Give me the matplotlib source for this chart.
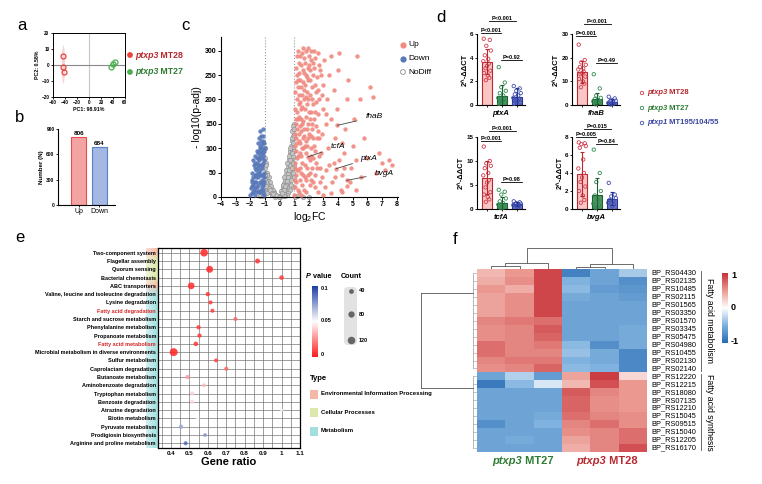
import numpy as np
import matplotlib.pyplot as plt
from matplotlib.colors import LinearSegmentedColormap, to_rgb
from matplotlib.patches import Ellipse, Rectangle, FancyBboxPatch

plt.rcParams['font.family'] = ['Liberation Sans', 'DejaVu Sans']
plt.rcParams['mathtext.fontset'] = 'custom'
plt.rcParams['mathtext.rm'] = 'Liberation Sans'
plt.rcParams['mathtext.it'] = 'Liberation Sans:italic'
plt.rcParams['mathtext.bf'] = 'Liberation Sans:bold'

# ---------------- data ----------------
# a: PCA
pca_mt28_x = [-43, -43, -42]
pca_mt28_y = [5.6, -1.0, -4.2]
pca_mt27_x = [43, 37, 40]
pca_mt27_y = [2.0, -1.0, 0.6]

# b: DEG counts
deg_labels = ['Up', 'Down']
deg_counts = [806, 684]

# c: volcano (log2FC, -log10 padj)
up_pts = [(1.05, 20), (1.1, 45), (1.08, 70), (1.12, 95), (1.15, 120), (1.1, 150), (1.2, 175), (1.18, 200),
          (1.25, 225), (1.22, 250), (1.3, 275), (1.28, 300), (1.35, 10), (1.4, 35), (1.38, 60), (1.45, 85),
          (1.42, 110), (1.5, 135), (1.48, 160), (1.55, 185), (1.52, 210), (1.6, 235), (1.58, 260), (1.65, 285),
          (1.62, 305), (1.7, 15), (1.75, 40), (1.72, 65), (1.8, 90), (1.78, 115), (1.85, 140), (1.82, 165),
          (1.9, 190), (1.88, 215), (1.95, 240), (1.92, 265), (2.0, 290), (1.98, 305), (2.05, 25), (2.1, 50),
          (2.08, 75), (2.15, 100), (2.12, 125), (2.2, 150), (2.18, 175), (2.25, 200), (2.22, 225), (2.3, 250),
          (2.28, 275), (2.35, 300), (2.4, 20), (2.45, 45), (2.5, 70), (2.42, 95), (2.55, 120), (2.48, 145),
          (2.6, 170), (2.52, 195), (2.65, 220), (2.58, 245), (2.7, 270), (2.62, 295), (2.75, 30), (2.8, 60),
          (2.85, 90), (2.9, 130), (2.95, 180), (3.0, 230), (2.78, 260), (2.88, 210), (3.1, 20), (3.2, 55),
          (3.3, 100), (3.15, 150), (3.25, 200), (3.4, 250), (3.5, 290), (3.05, 280), (3.6, 30), (3.7, 70),
          (3.8, 120), (3.9, 180), (4.0, 260), (4.1, 295), (3.55, 160), (3.75, 220), (4.2, 15), (4.3, 45),
          (4.4, 90), (4.5, 140), (4.6, 200), (4.7, 240), (4.25, 110), (4.8, 30), (4.9, 60), (5.0, 105),
          (5.1, 160), (5.3, 290), (5.5, 200), (5.2, 75), (5.6, 40), (5.8, 120), (6.0, 80), (6.2, 225),
          (6.4, 205), (6.6, 50), (6.8, 90), (7.0, 70), (7.2, 55), (7.5, 75), (7.7, 65), (1.02, 5), (1.15, 30),
          (1.25, 55), (1.05, 105), (1.3, 130), (1.05, 180), (1.35, 210), (1.15, 265), (1.4, 240), (1.6, 100),
          (1.7, 140), (1.9, 60), (2.0, 130), (2.3, 80), (2.1, 260), (1.5, 180), (1.8, 250), (1.25, 85),
          (1.45, 5), (2.6, 10), (3.0, 5), (3.5, 8), (4.3, 10), (4.6, 22), (5.2, 15), (3.8, 40), (4.1, 75),
          (4.4, 60), (3.4, 65), (2.9, 40), (1.2, 140), (1.3, 190), (1.4, 290), (1.55, 70), (1.65, 200),
          (1.75, 230), (2.05, 210), (2.4, 230), (2.7, 120), (3.2, 170), (3.96, 147), (1.93, 82), (3.86, 58),
          (4.59, 34), (1.08, 35), (1.12, 160), (1.18, 80), (1.22, 110), (1.28, 240), (1.32, 165), (1.38, 90),
          (1.42, 195), (1.48, 270), (1.52, 25), (1.58, 120), (1.62, 155), (1.68, 255), (1.72, 180),
          (1.78, 300), (1.82, 35), (1.88, 105), (1.92, 150), (1.98, 200), (2.02, 270), (2.08, 160),
          (2.12, 35), (2.18, 280), (2.22, 60), (2.28, 120), (2.32, 190), (2.38, 265), (2.45, 175), (2.5, 215),
          (1.03, 60), (1.06, 130), (1.09, 215), (1.14, 235), (1.17, 55), (1.21, 290), (1.24, 160), (1.27, 15),
          (1.33, 115), (1.36, 255), (1.39, 145), (1.44, 225), (1.46, 50), (1.51, 100), (1.54, 295), (1.57, 150),
          (1.63, 45), (1.66, 125), (1.69, 220), (1.74, 105), (1.77, 275), (1.81, 205), (1.84, 10), (1.87, 245),
          (1.94, 120), (1.97, 45), (2.03, 175), (2.07, 240), (2.14, 300), (2.17, 85), (2.24, 140), (2.27, 30),
          (2.34, 105), (2.37, 160), (2.44, 285), (2.56, 60), (2.64, 135), (2.68, 85), (2.72, 200), (2.84, 250)]
down_pts = [(-1.05, 5), (-1.1, 15), (-1.15, 25), (-1.2, 35), (-1.25, 45), (-1.3, 55), (-1.35, 65), (-1.4, 75),
            (-1.1, 85), (-1.2, 95), (-1.3, 105), (-1.15, 115), (-1.25, 125), (-1.3, 135), (-1.5, 10), (-1.55, 20),
            (-1.6, 30), (-1.45, 40), (-1.5, 50), (-1.65, 60), (-1.55, 70), (-1.4, 80), (-1.5, 90), (-1.35, 100),
            (-1.45, 110), (-1.4, 120), (-1.7, 5), (-1.75, 15), (-1.8, 25), (-1.85, 35), (-1.7, 45), (-1.6, 55),
            (-1.75, 65), (-1.65, 85), (-1.55, 95), (-1.9, 8), (-1.95, 18), (-2.0, 5), (-1.85, 50), (-1.8, 75),
            (-1.9, 30), (-1.05, 30), (-1.08, 50), (-1.12, 70), (-1.18, 60), (-1.22, 80), (-1.28, 90), (-1.02, 100),
            (-1.06, 110), (-1.1, 125), (-1.2, 20), (-1.3, 10), (-1.35, 30), (-1.4, 50), (-1.45, 60), (-1.6, 40),
            (-1.65, 20), (-1.7, 30), (-1.25, 15), (-1.15, 45), (-1.35, 85), (-1.5, 65), (-1.2, 108), (-1.1, 140),
            (-1.04, 40), (-1.08, 95), (-1.13, 8), (-1.17, 100), (-1.23, 65), (-1.27, 28), (-1.33, 45),
            (-1.38, 12), (-1.42, 95), (-1.48, 25), (-1.53, 80), (-1.58, 45), (-1.62, 12), (-1.68, 70),
            (-1.78, 40), (-1.82, 10), (-1.88, 22), (-1.03, 75), (-1.14, 90), (-1.26, 115)]
nodiff_pts = [(0.1, 5), (0.15, 10), (0.2, 15), (0.25, 22), (0.3, 28), (0.35, 35), (0.4, 40), (0.45, 48),
              (0.5, 55), (0.55, 62), (0.6, 70), (0.65, 78), (0.7, 88), (0.75, 95), (0.8, 105), (0.85, 115),
              (0.9, 125), (0.95, 138), (0.98, 150), (0.2, 5), (0.3, 10), (0.4, 15), (0.5, 20), (0.6, 30),
              (0.7, 40), (0.8, 50), (0.9, 60), (0.95, 80), (0.85, 70), (0.75, 60), (0.65, 45), (0.55, 35),
              (0.45, 25), (0.35, 18), (0.6, 50), (0.7, 65), (0.8, 80), (0.9, 100), (0.95, 110), (0.85, 95),
              (0.75, 75), (0.9, 85), (0.98, 120), (0.98, 95), (0.98, 65), (0.98, 40), (0.95, 20), (0.8, 25),
              (0.7, 15), (0.6, 8), (0.5, 5), (0.4, 3), (0.3, 2), (-0.1, 3), (-0.2, 2), (-0.3, 5), (-0.4, 10),
              (-0.5, 15), (-0.6, 20), (-0.7, 25), (-0.8, 32), (-0.9, 40), (-0.95, 50), (-0.98, 60), (-0.3, 1),
              (-0.5, 5), (-0.7, 10), (-0.9, 15), (-0.95, 25), (-0.8, 18), (-0.6, 10), (-0.4, 4), (-0.85, 8),
              (-0.98, 35), (-0.98, 80), (-0.95, 70), (0.0, 2), (0.05, 1), (-0.05, 1), (-1.3, 2), (-1.1, 3),
              (1.2, 2), (1.6, 1), (2.0, 1), (-0.98, 100), (1.05, 1), (0.88, 135), (0.92, 145), (0.72, 100),
              (0.62, 85), (0.52, 70), (0.42, 55), (0.32, 40), (0.22, 25), (0.12, 12), (-0.88, 50), (-0.75, 40),
              (-0.65, 30), (-0.55, 22), (-0.45, 14), (-0.35, 9), (-0.25, 4), (-0.92, 65), (-0.85, 28),
              (0.82, 120), (0.87, 90), (0.93, 70), (0.78, 35), (0.68, 55), (0.58, 42), (0.48, 32), (0.38, 22),
              (0.28, 14), (0.18, 8), (0.96, 128), (0.99, 140), (0.91, 50), (0.83, 60), (-0.93, 30), (-0.83, 45),
              (-0.72, 18), (-0.62, 14), (-0.52, 9), (-0.42, 6), (-0.97, 45), (-0.9, 22)]
gene_names = ['fhaB', 'tcfA', 'ptxA', 'bvgA']
gene_x = [3.96, 1.93, 3.86, 4.59]
gene_y = [147, 82, 58, 34]
gene_text_x = [6.45, 3.96, 6.12, 7.14]
gene_text_y = [164, 103, 79, 49]

# d: qPCR (2^-ddCT) for ptxp3 MT28, ptxp3 MT27, ptxp1
qpcr_genes = ['ptxA', 'fhaB', 'tcfA', 'bvgA']
qpcr_ymax = [6, 30, 15, 8]
qpcr_ticks = [[0, 2, 4, 6], [0, 10, 20, 30], [0, 5, 10, 15], [0, 2, 4, 6, 8]]
qpcr_mean = [[3.66, 0.79, 0.65], [14.1, 2.7, 1.4], [6.5, 1.25, 1.05], [3.84, 1.6, 1.16]]
qpcr_sd = [[1.05, 0.9, 0.8], [4.7, 2.2, 1.0], [3.4, 1.25, 0.4], [2.45, 1.85, 0.7]]
qpcr_pts = [
    [[5.6, 5.5, 5.0, 4.6, 4.2, 3.9, 3.7, 3.5, 3.3, 3.1, 2.9, 2.7, 2.5, 2.3, 2.1],
     [3.2, 1.9, 1.5, 1.2, 1.0, 0.8, 0.6, 0.5, 0.4, 0.3, 0.2, 0.1],
     [1.6, 1.4, 1.2, 1.0, 0.9, 0.8, 0.6, 0.5, 0.4, 0.3, 0.2, 0.1]],
    [[25.5, 19, 18, 17, 16, 15.5, 15, 14, 13.5, 13, 12, 11, 10, 9, 7.5],
     [13, 7, 4, 3, 2.5, 2, 1.5, 1, 0.6, 0.3],
     [3.5, 2.8, 2.2, 1.8, 1.5, 1.2, 0.9, 0.6, 0.4, 0.2]],
    [[13, 10, 9.5, 9, 8.5, 7.5, 7, 6, 5.5, 4.5, 3.5, 3, 2.5, 2, 1.5],
     [4, 3.6, 3, 2.2, 1.6, 1.2, 0.9, 0.6, 0.4, 0.2],
     [1.6, 1.4, 1.2, 1.1, 1.0, 0.9, 0.8, 0.6, 0.5]],
    [[7.4, 7.3, 7.2, 7.0, 6.8, 5.5, 4.5, 4.0, 3.5, 3.0, 2.5, 2.0, 1.5, 1.0, 0.7],
     [6.6, 4.0, 3.0, 2.0, 1.5, 1.0, 0.6, 0.4, 0.2, 0.1],
     [2.9, 1.6, 1.4, 1.2, 1.0, 0.9, 0.7, 0.5, 0.3]],
]
qpcr_p = [['P<0.001', 'P<0.001', 'P=0.92'], ['P<0.001', 'P=0.001', 'P=0.49'],
          ['P<0.001', 'P<0.001', 'P=0.98'], ['P=0.015', 'P=0.005', 'P=0.84']]
qpcr_p_y = [[7.1, 6.06, 3.8], [34.2, 29.3, 17.7], [16.2, 14.1, 5.6], [8.86, 7.97, 7.2]]
strain_names = [('ptxp3', ' MT28'), ('ptxp3', ' MT27'), ('ptxp1', ' MT195/104/55')]

# e: KEGG enrichment
pathways = ['Two-component system', 'Flagellar assembly', 'Quorum sensing', 'Bacterial chemotaxis',
            'ABC transporters', 'Valine, leucine and isoleucine degradation', 'Lysine degradation',
            'Fatty acid degradation', 'Starch and sucrose metabolism', 'Phenylalanine metabolism',
            'Propanoate metabolism', 'Fatty acid metabolism', 'Microbial metabolism in diverse environments',
            'Sulfur metabolism', 'Caprolactam degradation', 'Butanoate metabolism', 'Aminobenzoate degradation',
            'Tryptophan metabolism', 'Benzoate degradation', 'Atrazine degradation', 'Biotin metabolism',
            'Pyruvate metabolism', 'Prodigiosin biosynthesis', 'Arginine and proline metabolism']
gene_ratio = [0.58, 0.87, 0.61, 1.0, 0.51, 0.60, 0.615, 0.625, 0.75, 0.55, 0.555, 0.535, 0.415, 0.645,
              0.70, 0.49, 0.58, 0.515, 0.515, 1.0, 0.545, 0.455, 0.585, 0.48]
path_count = [125, 45, 100, 35, 95, 30, 25, 25, 25, 30, 30, 35, 135, 25, 25, 30, 22, 25, 25, 10, 15, 30, 18, 25]
path_p = [0.002, 0.005, 0.002, 0.006, 0.003, 0.005, 0.006, 0.006, 0.015, 0.006, 0.006, 0.005, 0.001, 0.008,
          0.015, 0.028, 0.034, 0.039, 0.041, 0.046, 0.049, 0.072, 0.078, 0.088]
path_type = ['Env', 'Cell', 'Cell', 'Cell', 'Env'] + ['Met'] * 19
path_highlight = ['Fatty acid degradation', 'Fatty acid metabolism']
type_names = ['Environmental Information Processing', 'Cellular Processes', 'Metabolism']

# f: heatmap (z-score)
hm_genes = ['BP_RS04430', 'BP_RS02135', 'BP_RS10485', 'BP_RS02115', 'BP_RS01565', 'BP_RS03350', 'BP_RS01570',
            'BP_RS03345', 'BP_RS05475', 'BP_RS04980', 'BP_RS10455', 'BP_RS02130', 'BP_RS02140', 'BP_RS12220',
            'BP_RS12215', 'BP_RS18080', 'BP_RS07135', 'BP_RS12210', 'BP_RS15045', 'BP_RS09515', 'BP_RS15040',
            'BP_RS12205', 'BP_RS16170']
hm_values = [
    [0.35, 0.5, 0.9, -0.85, -0.6, -0.35], [0.4, 0.55, 0.9, -0.5, -0.6, -0.75],
    [0.5, 0.4, 0.9, -0.45, -0.65, -0.7], [0.45, 0.55, 0.9, -0.55, -0.6, -0.65],
    [0.45, 0.55, 0.9, -0.6, -0.6, -0.6], [0.45, 0.55, 0.9, -0.6, -0.6, -0.6],
    [0.6, 0.65, 0.7, -0.6, -0.6, -0.6], [0.55, 0.6, 0.8, -0.6, -0.6, -0.55],
    [0.55, 0.6, 0.75, -0.6, -0.6, -0.55], [0.7, 0.6, 0.65, -0.45, -0.75, -0.55],
    [0.7, 0.6, 0.6, -0.4, -0.55, -0.8], [0.6, 0.65, 0.65, -0.5, -0.55, -0.8],
    [0.55, 0.6, 0.75, -0.45, -0.5, -0.8], [-0.6, -0.3, -0.65, 0.45, 0.95, 0.2],
    [-0.9, -0.45, -0.15, 0.35, 0.85, 0.5], [-0.6, -0.6, -0.6, 0.8, 0.6, 0.5],
    [-0.6, -0.6, -0.6, 0.75, 0.55, 0.5], [-0.6, -0.6, -0.6, 0.75, 0.55, 0.5],
    [-0.6, -0.6, -0.55, 0.7, 0.6, 0.55], [-0.75, -0.6, -0.5, 0.6, 0.7, 0.55],
    [-0.6, -0.6, -0.6, 0.55, 0.6, 0.7], [-0.6, -0.55, -0.6, 0.45, 0.6, 0.7],
    [-0.6, -0.6, -0.6, 0.4, 0.6, 0.85]]
hm_groups = [('Fatty acid metabolism', 0, 12), ('Fatty acid synthesis', 13, 22)]
# column dendrogram links: x0, x1, h0, h1, h
col_links = [(0, 1, 0, 0, 0.13), (0.5, 2, 0.13, 0, 0.25), (3, 4, 0, 0, 0.10),
             (3.5, 5, 0.10, 0, 0.20), (1.25, 4.25, 0.25, 0.20, 0.9)]
row_attach = [2.5, 14.4]

# ---------------- figure ----------------
W, H = 762, 484
fig = plt.figure(figsize=(W / 100, H / 100), dpi=100)
renderer = fig.canvas.get_renderer()


def px_axes(l, t, r, b, **kw):
    return fig.add_axes([l / W, 1 - b / H, (r - l) / W, (b - t) / H], **kw)


RED = '#b8282e'
GREEN = '#2e7d32'
BLUE = '#3a46a0'


def bold_ticks(ax, size):
    ax.tick_params(labelsize=size)
    for lab in ax.get_xticklabels() + ax.get_yticklabels():
        lab.set_fontweight('bold')


# ---- panel a ----
ax = px_axes(53, 33, 125, 97)
ax.add_patch(Ellipse((-42.5, 0.3), 5, 24, color='#f7d3d3', lw=0, zorder=0))
ax.add_patch(Ellipse((40, 0.5), 10, 5, color='#d7edd5', lw=0, zorder=0))
ax.axvline(0, color='#c8c8c8', lw=0.8, zorder=0.5)
ax.axhline(0, color='#888888', lw=0.8, zorder=0.5)
ax.plot(pca_mt28_x, pca_mt28_y, 'o', mfc='none', mec='#e8453c', ms=3.6, mew=0.9)
ax.plot(pca_mt27_x, pca_mt27_y, 'o', mfc='none', mec='#4caf50', ms=3.6, mew=0.9)
ax.set_xlim(-60, 60)
ax.set_ylim(-20, 20)
ax.set_xticks(range(-60, 61, 20))
ax.set_yticks(range(-20, 21, 10))
ax.tick_params(length=1.5, width=0.6, pad=1)
bold_ticks(ax, 3.3)
for s in ax.spines.values():
    s.set_linewidth(0.7)
ax.set_xlabel('PC1: 98.91%', fontsize=3.8, fontweight='bold', labelpad=1)
ax.set_ylabel('PC2: 0.58%', fontsize=3.8, fontweight='bold', labelpad=1)

# ---- panel b ----
ax = px_axes(58, 129, 115, 205)
ax.bar(range(2), deg_counts, width=0.7, color=['#f4a3a3', '#a3b9e3'],
       edgecolor=['#e3504f', '#5b7fc4'], lw=0.8)
for i, v in enumerate(deg_counts):
    ax.text(i, v + 12, str(v), ha='center', va='bottom', fontsize=4.5, fontweight='bold')
ax.set_xlim(-1, 1.75)
ax.set_ylim(0, 900)
ax.set_yticks([0, 300, 600, 900])
ax.set_xticks(range(2))
ax.set_xticklabels(deg_labels)
ax.tick_params(length=1.5, width=0.6, pad=1)
bold_ticks(ax, 3.5)
for lab in ax.get_xticklabels():
    lab.set_fontsize(5)
    lab.set_fontweight('normal')
ax.spines[['top', 'right']].set_visible(False)
ax.set_ylabel('Number (N)', fontsize=4.5, fontweight='bold', labelpad=2)

# ---- panel c ----
ax = px_axes(221, 37, 398, 197)
nx, ny = zip(*nodiff_pts)
dx, dy = zip(*down_pts)
ux, uy = zip(*up_pts)
ax.scatter(nx, ny, s=10, facecolor='#c4c4c4', edgecolor='#8d8d8d', lw=0.4, zorder=2, clip_on=False)
ax.scatter(dx, dy, s=10, color='#5878b8', alpha=0.9, lw=0, zorder=3, clip_on=False)
ax.scatter(ux, uy, s=10, color='#f08a80', alpha=0.9, lw=0, zorder=3, clip_on=False)
ax.axvline(-1, color='#9a9a9a', ls=':', lw=0.8, zorder=1)
ax.axvline(1, color='#9a9a9a', ls=':', lw=0.8, zorder=1)
for g, gx, gy, tx, ty in zip(gene_names, gene_x, gene_y, gene_text_x, gene_text_y):
    ax.annotate(g, xy=(gx, gy), xytext=(tx, ty), fontsize=6, style='italic', ha='center', va='center',
                arrowprops=dict(arrowstyle='-', color='#444444', lw=0.6, shrinkA=4, shrinkB=0))
ax.set_xlim(-4, 8.1)
ax.set_ylim(0, 328)
ax.set_xticks(range(-4, 9))
ax.set_yticks(range(0, 301, 50))
ax.tick_params(length=2, width=0.7, pad=1)
bold_ticks(ax, 5)
ax.spines[['top', 'right']].set_visible(False)
ax.set_xlabel(r'log$_2$FC', fontsize=7.5, labelpad=1)
ax.set_ylabel('- log10(p-adj)', fontsize=7.5, labelpad=2)

# ---- panel d ----
bar_fill = ['#f9c6c6', '#4f9663', '#6672c2']
bar_edge = ['#b8282e', '#1f5e34', '#283593']
pt_col = ['#d23a4a', '#2f8a4f', '#3f4db0']
jitter = [-0.22, 0.18, -0.05, 0.25, -0.15, 0.08, -0.25, 0.12, 0.0, -0.1, 0.22, -0.2, 0.05, 0.15, -0.08]
d_pos = [(477, 34, 525, 105), (572, 34, 620, 105), (477, 137, 525, 209), (572, 137, 620, 209)]
line_x = [(0.1, 1.9), (-0.4, 0.95), (0.95, 2.3)]
for k in range(4):
    ax = px_axes(*d_pos[k])
    for g in range(3):
        ax.bar(g, qpcr_mean[k][g], width=0.67, color=bar_fill[g], edgecolor=bar_edge[g], lw=0.8, zorder=1)
        ax.errorbar(g, qpcr_mean[k][g], yerr=qpcr_sd[k][g], color=bar_edge[g], lw=0.8, capsize=1.5,
                    capthick=0.8, zorder=4)
        pts = qpcr_pts[k][g]
        ax.scatter([g + jitter[i % len(jitter)] for i in range(len(pts))], pts, s=6, facecolor='none',
                   edgecolor=pt_col[g], lw=0.6, zorder=3, clip_on=False)
    for (x0, x1), ptxt, py in zip(line_x, qpcr_p[k], qpcr_p_y[k]):
        ax.plot([x0, x1], [py, py], color='black', lw=0.6, clip_on=False)
        ax.text((x0 + x1) / 2, py, ptxt, fontsize=4, fontweight='bold', ha='center', va='bottom',
                clip_on=False)
    ax.set_xlim(-0.67, 2.53)
    ax.set_ylim(0, qpcr_ymax[k])
    ax.set_yticks(qpcr_ticks[k])
    ax.set_xticks([0, 1, 2])
    ax.set_xticklabels([])
    ax.tick_params(length=1.5, width=0.6, pad=1)
    bold_ticks(ax, 4.5)
    ax.spines[['top', 'right']].set_visible(False)
    ax.set_xlabel(qpcr_genes[k], fontsize=5.5, fontweight='bold', style='italic', labelpad=1)
    ax.set_ylabel(r'2^-ΔΔCT', fontsize=5.5, fontweight='bold', labelpad=1)

# ---- panel e ----
type_colors = {'Env': '#f4b9a6', 'Cell': '#dbe8ad', 'Met': '#a4dfe0'}
strip = np.zeros((len(pathways), 12, 4))
for i, tp in enumerate(path_type):
    strip[i, :, :3] = to_rgb(type_colors[tp])
    strip[i, :, 3] = np.linspace(0.5, 1.0, 12)
sax = px_axes(146, 248, 158, 448)
sax.imshow(strip, aspect='auto', interpolation='bilinear', extent=(0, 1, len(pathways) - 0.43, -0.57))
sax.set_xlim(0, 1)
sax.set_ylim(len(pathways) - 0.43, -0.57)
sax.axis('off')

ax = px_axes(158, 248, 300, 448)
yy = np.arange(len(pathways))
cmap_p = LinearSegmentedColormap.from_list('p', ['#ff1f1f', '#ffffff', '#1f3fa8'])
ax.scatter(gene_ratio, yy, s=[c * 0.22 + 3 for c in path_count], c=path_p, cmap=cmap_p, vmin=0, vmax=0.1,
           alpha=0.85, lw=0, zorder=3)
ax.set_xlim(0.33, 1.1)
ax.set_ylim(len(pathways) - 0.43, -0.57)
ax.set_xticks([0.4, 0.5, 0.6, 0.7, 0.8, 0.9, 1.0, 1.1])
ax.set_xticklabels(['0.4', '0.5', '0.6', '0.7', '0.8', '0.9', '1', '1.1'])
ax.set_xticks(np.arange(0.35, 1.1, 0.1), minor=True)
ax.set_yticks(yy)
ax.set_yticklabels(pathways)
ax.grid(which='both', color='#6a6a6a', lw=0.45, zorder=0)
ax.tick_params(axis='y', length=0, pad=1.5, labelsize=4)
ax.tick_params(axis='x', which='both', length=0, pad=2)
bold_ticks(ax, 4.5)
for lab in ax.get_yticklabels():
    lab.set_fontsize(4)
    if lab.get_text() in path_highlight:
        lab.set_color('#d62728')
for s in ax.spines.values():
    s.set_linewidth(0.9)
ax.set_xlabel('Gene ratio', fontsize=8, fontweight='bold', labelpad=1)

cax = px_axes(312, 286, 318, 357)
cax.imshow(np.linspace(0.1, 0, 100).reshape(-1, 1), aspect='auto', cmap=cmap_p, vmin=0, vmax=0.1)
cax.set_xticks([])
cax.set_yticks([])
for s in cax.spines.values():
    s.set_visible(False)

# ---- panel f ----
vals = np.array(hm_values)
nr, nc = vals.shape
cmap_h = LinearSegmentedColormap.from_list('h', ['#2a6db5', '#7fb2de', '#ffffff', '#eb9a92', '#c8323a'])
ax = px_axes(477, 269, 647, 452)
ax.imshow(vals, aspect='auto', cmap=cmap_h, vmin=-1, vmax=1, interpolation='nearest')
ax.set_xticks([])
ax.set_yticks([])
for s in ax.spines.values():
    s.set_visible(False)
for i, g in enumerate(hm_genes):
    ax.text(nc - 0.5 + 0.15, i, g, fontsize=5.3, va='center', ha='left', clip_on=False)
for name, r0, r1 in hm_groups:
    ax.plot([7.4, 7.4], [r0 - 0.3, r1 + 0.3], color='#555555', lw=0.6, clip_on=False)
    ax.text(7.7, (r0 + r1) / 2, name, rotation=270, fontsize=6.3, ha='center', va='center', clip_on=False)
ax.set_xlim(-0.5, nc - 0.5)
ax.set_ylim(nr - 0.5, -0.5)

# column dendrogram
dax = px_axes(477, 246, 647, 269)
for x0, x1, h0, h1, h in col_links:
    dax.plot([x0, x0, x1, x1], [h0, h, h, h1], color='#555555', lw=0.6)
dax.set_xlim(-0.5, nc - 0.5)
dax.set_ylim(0, 1)
dax.axis('off')

# row dendrogram
rax = px_axes(418, 269, 477, 452)
for (name, r0, r1), ya in zip(hm_groups, row_attach):
    for r in range(r0, r1 + 1):
        rax.plot([0, 0.06], [r, r], color='#9a9a9a', lw=0.4)
    rax.plot([0.06, 0.06], [r0, r1], color='#9a9a9a', lw=0.5)
    rax.plot([0.06, 0.95], [ya, ya], color='#555555', lw=0.6)
rax.plot([0.95, 0.95], row_attach, color='#555555', lw=0.6)
rax.set_xlim(1, 0)
rax.set_ylim(nr - 0.5, -0.5)
rax.axis('off')

# heatmap colorbar
hcax = px_axes(722, 273, 728, 343)
hcax.imshow(np.linspace(1, -1, 100).reshape(-1, 1), aspect='auto', cmap=cmap_h, vmin=-1, vmax=1)
hcax.set_xticks([])
hcax.set_yticks([])
for s in hcax.spines.values():
    s.set_visible(False)

# overlay in pixel coords for legends / labels
ov = fig.add_axes([0, 0, 1, 1], zorder=10)
ov.set_xlim(0, W)
ov.set_ylim(H, 0)
ov.axis('off')


def mixed(x, y, parts, size, color, ha='left', weight='bold'):
    texts, widths = [], []
    for s, st in parts:
        t = ov.text(0, y, s, fontsize=size, fontweight=weight, style=st, color=color, va='center', ha='left')
        texts.append(t)
        widths.append(t.get_window_extent(renderer).width)
    start = x - sum(widths) / 2 if ha == 'center' else x
    for t, w in zip(texts, widths):
        t.set_x(start)
        start += w


# a legend
ov.scatter([130, 130], [55, 72], s=10, color=['#e8453c', '#4caf50'])
mixed(135, 55, [('ptxp3', 'italic'), (' MT28', 'normal')], 6.3, RED)
mixed(135, 72, [('ptxp3', 'italic'), (' MT27', 'normal')], 6.3, GREEN)

# c legend
ov.scatter([403], [45], s=12, color='#f08a80')
ov.scatter([403], [59], s=12, color='#5878b8')
ov.scatter([403], [72], s=12, facecolor='none', edgecolor='#8d8d8d', lw=0.6)
for yv, t in zip([45, 59, 72], ['Up', 'Down', 'NoDiff']):
    ov.text(408, yv, t, fontsize=6, va='center')

# d legend
for yv, (it, rest), c, pc in zip([93, 108, 123], strain_names, [RED, GREEN, BLUE], pt_col):
    ov.scatter([642], [yv], s=6, facecolor='none', edgecolor=pc, lw=0.6)
    mixed(647, yv, [(it, 'italic'), (rest, 'normal')], 5.5, c)

# e legends
mixed(306, 276, [('P', 'italic'), (' value', 'normal')], 5.2, 'black')
for yv, t in zip([289, 321, 355], ['0.1', '0.05', '0']):
    ov.text(321, yv, t, fontsize=4, fontweight='bold', va='center')
ov.text(351.5, 276, 'Count', fontsize=5.2, fontweight='bold', ha='center', va='center')
ov.add_patch(FancyBboxPatch((344, 287), 13, 58, boxstyle='round,pad=0,rounding_size=4',
                            color='#e2e2e2', lw=0))
for yv, c in zip([291, 314, 340], [40, 80, 120]):
    ov.scatter([350.5], [yv], s=c * 0.22 + 3, color='#666666', lw=0)
    ov.text(359, yv, str(c), fontsize=4, fontweight='bold', va='center')
ov.text(310, 378, 'Type', fontsize=5.5, fontweight='bold', va='center')
for yv, tn, tk in zip([394, 412, 431], type_names, ['Env', 'Cell', 'Met']):
    ov.add_patch(Rectangle((310, yv - 4.5), 8, 9, color=type_colors[tk], lw=0))
    ov.text(321, yv, tn, fontsize=4.3, fontweight='bold', va='center')

# heatmap colorbar labels and column group labels
for yv, t in zip([276, 308, 341], ['1', '0', '-1']):
    ov.text(731, yv, t, fontsize=6.5, fontweight='bold', va='center')
mixed(523, 461, [('ptxp3', 'italic'), (' MT27', 'normal')], 8, GREEN, ha='center')
mixed(607, 461, [('ptxp3', 'italic'), (' MT28', 'normal')], 8, RED, ha='center')

# panel labels
for lab, (x, y) in zip('abcdef', [(22, 25), (20, 118), (185, 25), (441, 17), (20, 238), (455, 240)]):
    ov.text(x, y, lab, fontsize=12, ha='center', va='center')

fig.savefig('out.png', dpi=100)
